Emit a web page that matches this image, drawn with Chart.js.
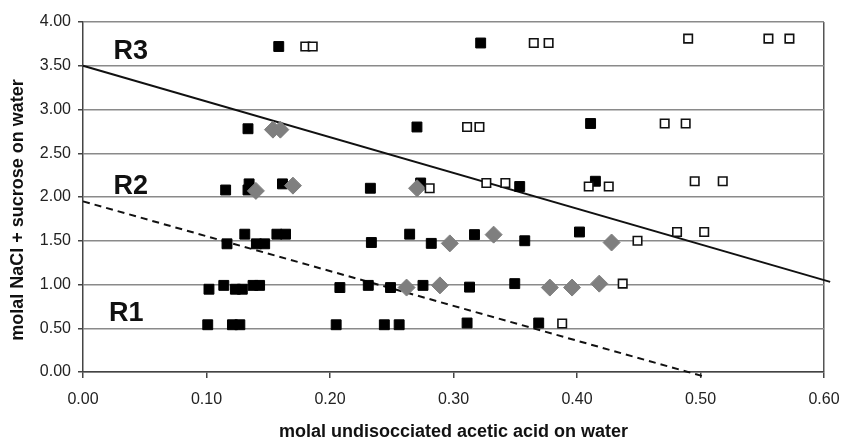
<html>
<head>
	<meta charset="utf-8">
	<title>Regions R1 R2 R3</title>
	<script src="https://cdn.jsdelivr.net/npm/chart.js@4.4.1/dist/chart.umd.min.js"></script>
	<style>
		body { margin: 0; background: #fff; }
		#box { width: 843px; height: 441px; }
	</style>
</head>
<body>
	<div id="box">
		<canvas id="myChart"></canvas>
	</div>

	<script>

		// ---------------------------------------------------------------
		// Data
		// ---------------------------------------------------------------

		// filled black squares
		var blackX = [0.1585, 0.322,
			0.1336, 0.2704, 0.411,
			0.1155, 0.1336, 0.1345, 0.1615, 0.2327, 0.2734, 0.3536, 0.4149,
			0.1166, 0.131, 0.1404, 0.1471, 0.157, 0.164, 0.2335, 0.2645, 0.282, 0.317, 0.3577, 0.402,
			0.102, 0.114, 0.1234, 0.129, 0.1377, 0.143, 0.208, 0.231, 0.249, 0.2753, 0.313, 0.3496,
			0.101, 0.121, 0.127, 0.205, 0.244, 0.256, 0.311, 0.369];
		var blackY = [3.72, 3.76,
			2.78, 2.80, 2.84,
			2.08, 2.08, 2.15, 2.15, 2.10, 2.16, 2.12, 2.18,
			1.465, 1.575, 1.465, 1.465, 1.575, 1.575, 1.48, 1.575, 1.47, 1.57, 1.50, 1.60,
			0.946, 0.99, 0.946, 0.946, 0.99, 0.99, 0.965, 0.99, 0.965, 0.99, 0.97, 1.01,
			0.54, 0.54, 0.54, 0.54, 0.54, 0.54, 0.56, 0.56];

		// grey diamonds
		var diamondX = [0.1538, 0.1598, 0.140, 0.170, 0.2705, 0.297, 0.3325, 0.428, 0.262, 0.289, 0.378, 0.396, 0.418];
		var diamondY = [2.77, 2.77, 2.07, 2.13, 2.10, 1.47, 1.57, 1.48, 0.965, 0.99, 0.965, 0.965, 1.01];

		// open squares
		var openX = [0.180, 0.186, 0.365, 0.377, 0.490, 0.555, 0.572,
			0.311, 0.321, 0.471, 0.488,
			0.2807, 0.3266, 0.342, 0.4095, 0.4257, 0.4953, 0.518,
			0.449, 0.481, 0.503,
			0.437, 0.388];
		var openY = [3.72, 3.72, 3.76, 3.76, 3.81, 3.81, 3.81,
			2.80, 2.80, 2.84, 2.84,
			2.10, 2.16, 2.16, 2.12, 2.12, 2.18, 2.18,
			1.50, 1.60, 1.60,
			1.01, 0.555];

		// boundary lines (end points)
		var solidX = [0, 0.605];
		var solidY = [3.50, 1.03];
		var dashX = [0, 0.505];
		var dashY = [1.95, -0.06];

		// region labels
		var regionNames = ["R3", "R2", "R1"];
		var regionX = [0.0386, 0.0386, 0.035];
		var regionY = [3.66, 2.12, 0.67];

		// axes
		var xTicks = [0, 0.1, 0.2, 0.3, 0.4, 0.5, 0.6];
		var yTicks = [0, 0.5, 1, 1.5, 2, 2.5, 3, 3.5, 4];
		var xTitle = "molal undisocciated acetic acid on water";
		var yTitle = "molal NaCl + sucrose on water";


		// ---------------------------------------------------------------
		// Helpers
		// ---------------------------------------------------------------

		function toPoints(xs, ys) {
			var pts = [];
			for (var i = 0; i < xs.length; i++) {
				pts.push({ x: xs[i], y: ys[i] });
			}
			return pts;
		}

		var fontName = "'Liberation Sans', Arial, sans-serif";

		// writes the region names and the two axis titles
		var textPlugin = {
			id: 'textPlugin',
			afterDraw: function(chart) {
				var ctx = chart.ctx;
				var sx = chart.scales.x;
				var sy = chart.scales.y;
				var area = chart.chartArea;

				ctx.save();
				ctx.fillStyle = '#111';
				ctx.textAlign = 'center';
				ctx.textBaseline = 'middle';

				ctx.font = "bold 27px " + fontName;
				for (var i = 0; i < regionNames.length; i++) {
					ctx.fillText(regionNames[i], sx.getPixelForValue(regionX[i]), sy.getPixelForValue(regionY[i]));
				}

				ctx.font = "bold 18px " + fontName;
				ctx.fillText(xTitle, (area.left + area.right) / 2, 432);

				ctx.translate(18, 210);
				ctx.rotate(-Math.PI / 2);
				ctx.fillText(yTitle, 0, 0);
				ctx.restore();
			}
		};


		// ---------------------------------------------------------------
		// Chart
		// ---------------------------------------------------------------

		var ctx = document.getElementById('myChart').getContext('2d');
		var chart = new Chart(ctx, {
			type: 'scatter',
			data: {
				datasets: [
					{
						label: 'open',
						data: toPoints(openX, openY),
						pointStyle: 'rect',
						pointRadius: 6,
						backgroundColor: '#fff',
						borderColor: '#111',
						borderWidth: 1.6
					},
					{
						label: 'diamond',
						data: toPoints(diamondX, diamondY),
						pointStyle: 'rectRot',
						pointRadius: 8.5,
						backgroundColor: '#7f7f7f',
						borderColor: '#7f7f7f',
						borderWidth: 1
					},
					{
						label: 'black',
						data: toPoints(blackX, blackY),
						pointStyle: 'rect',
						pointRadius: 7,
						backgroundColor: '#000',
						borderColor: '#000',
						borderWidth: 1
					},
					{
						label: 'solid',
						type: 'line',
						data: toPoints(solidX, solidY),
						borderColor: '#111',
						borderWidth: 2,
						pointRadius: 0,
						clip: false
					},
					{
						label: 'dashed',
						type: 'line',
						data: toPoints(dashX, dashY),
						borderColor: '#111',
						borderWidth: 2,
						borderDash: [7, 5],
						pointRadius: 0,
						clip: false
					}
				]
			},
			options: {
				responsive: true,
				maintainAspectRatio: false,
				animation: false,
				layout: {
					padding: { left: 0, right: 19, top: 22, bottom: 0 }
				},
				plugins: {
					legend: { display: false },
					tooltip: { enabled: false }
				},
				scales: {
					x: {
						type: 'linear',
						min: 0,
						max: 0.6,
						afterBuildTicks: function(scale) {
							scale.ticks = xTicks.map(function(v) { return { value: v }; });
						},
						afterFit: function(scale) {
							scale.height = 69;
							scale.paddingLeft = 0;
							scale.paddingRight = 0;
						},
						ticks: {
							color: '#222',
							padding: 12,
							font: { family: fontName, size: 16 },
							callback: function(v) { return Number(v).toFixed(2); }
						},
						grid: {
							color: function(c) { return c.tick && c.tick.value === 0.6 ? '#555' : 'rgba(0,0,0,0)'; },
							tickColor: '#444',
							tickLength: 6,
							lineWidth: 1.5
						},
						border: { color: '#444', width: 1.5 }
					},
					y: {
						type: 'linear',
						min: 0,
						max: 4,
						afterBuildTicks: function(scale) {
							scale.ticks = yTicks.map(function(v) { return { value: v }; });
						},
						afterFit: function(scale) {
							scale.width = 83;
							scale.paddingTop = 0;
							scale.paddingBottom = 0;
						},
						ticks: {
							color: '#222',
							padding: 7,
							font: { family: fontName, size: 16 },
							callback: function(v) { return Number(v).toFixed(2); }
						},
						grid: {
							color: '#8a8a8a',
							tickColor: '#444',
							tickLength: 5,
							lineWidth: 1.5
						},
						border: { color: '#444', width: 1.5 }
					}
				}
			},
			plugins: [textPlugin]
		});

	</script>
</body>
</html>
